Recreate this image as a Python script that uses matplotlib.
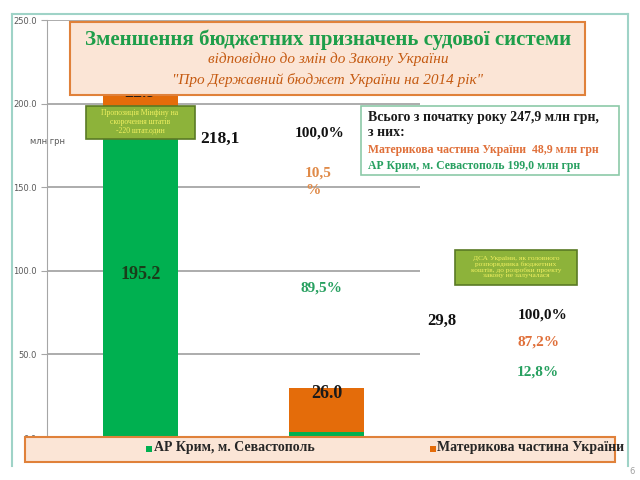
import matplotlib
matplotlib.use("Agg")
import matplotlib.pyplot as plt
from matplotlib.patches import Rectangle

# Data
categories = ["2014 (початок року)", "Зміни"]
crimea = [195.2, 3.8]
mainland = [22.9, 26.0]
yticks = [0, 50, 100, 150, 200, 250]

GREEN = "#00b050"
ORANGE = "#e46c0a"
PEACH = "#fbe5d6"
SERIF = "Liberation Serif"

W, H = 640, 480


def px(x, y):
    """pixel coords (top-left origin) -> figure fraction"""
    return x / W, 1 - y / H


def box(x0, y0, x1, y1, fc, ec, lw=1.2):
    fx, fy = px(x0, y1)
    fig.patches.append(Rectangle((fx, fy), (x1 - x0) / W, (y1 - y0) / H,
                                 transform=fig.transFigure, fc=fc, ec=ec, lw=lw))


def txt(x, y, s, **kw):
    fx, fy = px(x, y)
    kw.setdefault("family", SERIF)
    kw.setdefault("ha", "center")
    kw.setdefault("va", "center")
    fig.text(fx, fy, s, **kw)


fig = plt.figure(figsize=(6.4, 4.8), dpi=100)
fig.patch.set_facecolor("white")

# slide frame
fig.add_artist(plt.Line2D([12 / W, 12 / W], [px(0, 14)[1], px(0, 466)[1]],
                          transform=fig.transFigure, color="#9fd3c7", lw=1.5))
fig.add_artist(plt.Line2D([628 / W, 628 / W], [px(0, 14)[1], px(0, 466)[1]],
                          transform=fig.transFigure, color="#9fd3c7", lw=1.5))
fig.add_artist(plt.Line2D([12 / W, 628 / W], [px(0, 14)[1]] * 2,
                          transform=fig.transFigure, color="#9fd3c7", lw=1.5))

ax = fig.add_axes([47 / W, 1 - 438 / H, 373 / W, 418 / H])
x = range(len(categories))
ax.bar(x, crimea, width=0.4, color=GREEN, zorder=2)
ax.bar(x, mainland, width=0.4, bottom=crimea, color=ORANGE, zorder=2)
ax.set_xlim(-0.5, 1.5)
ax.set_ylim(0, 250)
ax.set_yticks(yticks)
ax.set_yticklabels([f"{v:.1f}" for v in yticks], fontsize=6, color="#595959")
ax.set_xticks([])
ax.grid(axis="y", color="#a6a6a6", lw=1.3, zorder=0)
for s in ["top", "right", "bottom"]:
    ax.spines[s].set_visible(False)
ax.spines["left"].set_color("#a6a6a6")
ax.tick_params(axis="y", color="#a6a6a6", length=4)

# bar value labels
ax.text(0, crimea[0] / 2, f"{crimea[0]:.1f}", ha="center", va="center",
        family=SERIF, fontsize=13, fontweight="bold", color="#1a3d1a", zorder=3)
ax.text(0, crimea[0] + mainland[0] / 2, f"{mainland[0]:.1f}", ha="center", va="center",
        family=SERIF, fontsize=13, fontweight="bold", color="#1a1a1a", zorder=3)
ax.text(1, crimea[1] + mainland[1] - 3, f"{mainland[1]:.1f}", ha="center", va="center",
        family=SERIF, fontsize=13, fontweight="bold", color="#1a1a1a", zorder=3)
ax.text(1, crimea[1] * 0.3, f"{crimea[1]:.1f}", ha="center", va="top",
        family=SERIF, fontsize=11, fontweight="bold", color="#1a1a1a", zorder=3,
        clip_on=False)

# title box
box(70, 22, 585, 95, PEACH, "#e0813a", 1.5)
txt(328, 40, "Зменшення бюджетних призначень судової системи",
    fontsize=15, fontweight="bold", color="#1e9e4a")
txt(328, 59, "відповідно до змін до Закону України",
    fontsize=11, style="italic", color="#c55a11")
txt(328, 80, "\"Про Державний бюджет України на 2014 рік\"",
    fontsize=11, style="italic", color="#c55a11")

# small green note boxes
box(86, 106, 195, 139, "#8db33a", "#5a7a25", 1.2)
txt(140, 122, "Пропозиція Мінфіну на\nскорочення штатів\n-220 штат.один",
    fontsize=5.5, color="#f0f060", linespacing=1.1)
box(455, 250, 577, 285, "#8db33a", "#5a7a25", 1.2)
txt(516, 267, "ДСА України, як головного\nрозпорядника бюджетних\nкоштів, до розробки проекту\nзакону не залучалася",
    fontsize=5.3, color="#f0f060", linespacing=1.05)

# info box
box(361, 106, 619, 175, "white", "#8cc9a8", 1.2)
txt(368, 117, "Всього з початку року 247,9 млн грн,", ha="left",
    fontsize=10, fontweight="bold", color="#1a1a1a")
txt(368, 133, "з них:", ha="left", fontsize=10, fontweight="bold", color="#1a1a1a")
txt(368, 150, "Материкова частина України  48,9 млн грн", ha="left",
    fontsize=8.5, fontweight="bold", color="#e0703a")
txt(368, 166, "АР Крим, м. Севастополь 199,0 млн грн", ha="left",
    fontsize=8.5, fontweight="bold", color="#27a060")

# annotations
txt(48, 142, "млн грн", fontsize=6, color="#595959", family="DejaVu Sans")
txt(220, 139, "218,1", fontsize=12.5, fontweight="bold", color="#111111")
txt(320, 133, "100,0%", fontsize=11, fontweight="bold", color="#111111")
txt(318, 173, "10,5", fontsize=11, fontweight="bold", color="#e08a48")
txt(313, 191, "%", fontsize=11, fontweight="bold", color="#e08a48")
txt(321, 288, "89,5%", fontsize=11, fontweight="bold", color="#27a060")
txt(442, 321, "29,8", fontsize=12, fontweight="bold", color="#111111")
txt(543, 315, "100,0%", fontsize=11, fontweight="bold", color="#111111")
txt(538, 342, "87,2%", fontsize=11, fontweight="bold", color="#e0703a")
txt(538, 372, "12,8%", fontsize=11, fontweight="bold", color="#27a060")

# legend box
box(25, 437, 615, 462, PEACH, "#e0813a", 1.5)
fig.patches.append(Rectangle(px(146, 452), 6 / W, 6 / H, transform=fig.transFigure,
                             fc=GREEN, ec="none"))
txt(154, 448, "АР Крим, м. Севастополь", ha="left", fontsize=10,
    fontweight="bold", color="#262626")
fig.patches.append(Rectangle(px(430, 452), 6 / W, 6 / H, transform=fig.transFigure,
                             fc=ORANGE, ec="none"))
txt(437, 448, "Материкова частина України", ha="left", fontsize=10,
    fontweight="bold", color="#262626")

txt(632, 471, "6", fontsize=6, color="#a0a0a0", family="DejaVu Sans")

fig.savefig("out.png", dpi=100)
